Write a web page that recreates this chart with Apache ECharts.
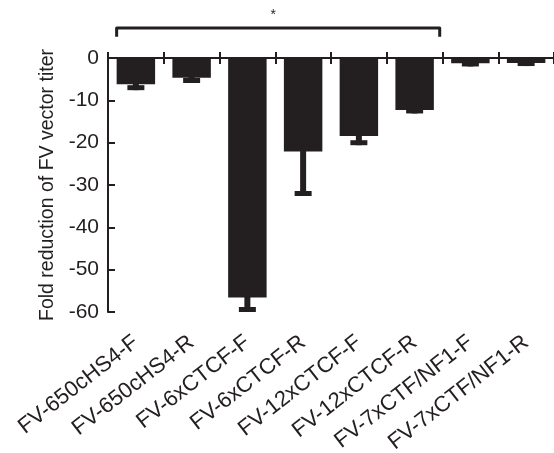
<!DOCTYPE html>
<html>
<head>
<meta charset="utf-8">
<script src="https://cdn.jsdelivr.net/npm/echarts@6/dist/echarts.min.js"></script>
<style>
html,body{margin:0;padding:0;background:#fff;}
#chart{width:554px;height:453px;}
</style>
</head>
<body>
<div id="chart"></div>
<script>
// ---- data ----
var categories = ['FV-650cHS4-F','FV-650cHS4-R','FV-6xCTCF-F','FV-6xCTCF-R','FV-12xCTCF-F','FV-12xCTCF-R','FV-7xCTF/NF1-F','FV-7xCTF/NF1-R'];
var values = [-6.2, -4.65, -56.6, -22.1, -18.4, -12.3, -1.25, -1.2];
var errorEnds = [-7.6, -5.9, -60.0, -32.6, -20.6, -13.1, -2.0, -1.9];
var yTicks = [0, -10, -20, -30, -40, -50, -60];
var yTitle = 'Fold reduction of FV vector titer';
var bracketFrom = 0;
var bracketTo = 5;
var bracketTop = 7.1;
var bracketLegEnd = 5.0;
var starLevel = 10.2;
var starText = '*';

var INK = '#231f20';
var FONT = '"Liberation Sans", Arial, Helvetica, sans-serif';

var chart = echarts.init(document.getElementById('chart'));

var errData = values.map(function (v, i) { return [i, v, errorEnds[i]]; });

var option = {
  animation: false,
  backgroundColor: '#fff',
  grid: { left: 108, right: 0, top: 58, bottom: 141, containLabel: false, outerBoundsMode: 'none' },
  xAxis: [
    {
      type: 'category', data: categories, position: 'bottom',
      axisLine: { show: false, onZero: false }, axisTick: { show: false },
      axisLabel: { rotate: 38, margin: 28, color: INK, fontSize: 22, fontFamily: FONT, interval: 0, hideOverlap: false }
    },
    {
      type: 'category', data: categories, position: 'top',
      axisLine: { show: true, onZero: false, lineStyle: { color: INK, width: 2 } },
      axisTick: { show: true, interval: 0, inside: false, length: 6, lineStyle: { color: INK, width: 2 } },
      axisLabel: { show: false }
    },
    {
      type: 'category', data: categories, position: 'top',
      axisLine: { show: false, onZero: false },
      axisTick: { show: true, interval: 0, inside: true, length: 6, lineStyle: { color: INK, width: 2 } },
      axisLabel: { show: false }
    }
  ],
  yAxis: {
    type: 'value', min: -60, max: 0, interval: 10,
    name: yTitle, nameLocation: 'middle', nameGap: 47,
    nameTextStyle: { color: INK, fontSize: 19.5, fontFamily: FONT },
    axisLine: { show: true, lineStyle: { color: INK, width: 2 } },
    axisTick: { show: true, inside: true, length: 7, lineStyle: { color: INK, width: 2 } },
    axisLabel: {
      color: INK, fontSize: 21, fontFamily: FONT, margin: 9,
      formatter: function (v) { return yTicks.indexOf(v) >= 0 ? String(v) : ''; }
    },
    splitLine: { show: false }
  },
  series: [
    {
      type: 'bar', data: values, barWidth: '69%',
      itemStyle: { color: INK }, xAxisIndex: 0
    },
    {
      type: 'custom', xAxisIndex: 0, data: errData, clip: false, z: 3,
      renderItem: function (params, api) {
        var i = api.value(0);
        var pv = api.coord([i, api.value(1)]);
        var pe = api.coord([i, api.value(2)]);
        var capW = 17, stemW = 6, capH = 5;
        return {
          type: 'group',
          children: [
            { type: 'rect', shape: { x: pv[0] - stemW / 2, y: pv[1] - 1, width: stemW, height: pe[1] - pv[1] + 1 }, style: { fill: INK } },
            { type: 'rect', shape: { x: pv[0] - capW / 2, y: pe[1] - capH, width: capW, height: capH }, style: { fill: INK } }
          ]
        };
      }
    },
    {
      type: 'custom', xAxisIndex: 0, data: [[bracketFrom, bracketTo]], clip: false, z: 4,
      renderItem: function (params, api) {
        var band = api.size([1, 0])[0];
        var a = api.coord([api.value(0), bracketTop]);
        var b = api.coord([api.value(1), bracketTop]);
        var legY = api.coord([api.value(0), bracketLegEnd])[1];
        var sy = api.coord([api.value(0), starLevel])[1];
        var x1 = a[0] - band * 0.345;
        var x2 = b[0] + band * 0.45;
        return {
          type: 'group',
          children: [
            { type: 'polyline', shape: { points: [[x1, legY], [x1, a[1]], [x2, a[1]], [x2, legY]] },
              style: { stroke: INK, lineWidth: 3, fill: null, lineJoin: 'round' } },
            { type: 'text', x: (x1 + x2) / 2 - 5, y: sy,
              style: { text: starText, fill: INK, fontSize: 14, fontFamily: FONT, align: 'center', verticalAlign: 'middle' } }
          ]
        };
      }
    }
  ]
};
chart.setOption(option);
</script>
</body>
</html>
